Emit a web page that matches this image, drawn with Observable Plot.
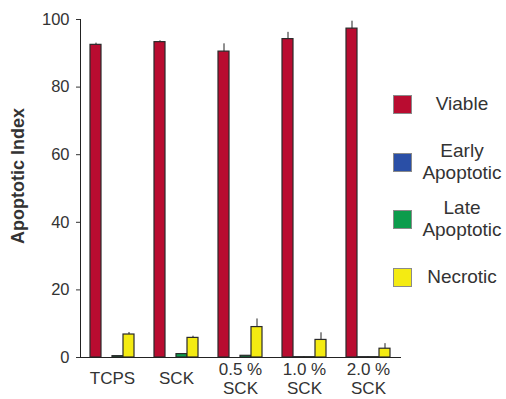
<!DOCTYPE html>
<html>
<head>
<meta charset="utf-8">
<script src="https://cdn.jsdelivr.net/npm/d3@7"></script>
<script src="https://cdn.jsdelivr.net/npm/@observablehq/plot@0.6"></script>
<style>
  html, body { margin: 0; padding: 0; background: #fff; }
  #wrap { position: relative; width: 506px; height: 399px; font-family: "Liberation Sans", Arial, sans-serif; color: #333; }
  #ylab { position: absolute; left: 18px; top: 176px; transform: translate(-50%, -50%) rotate(-90deg); font-size: 18px; font-weight: bold; white-space: nowrap; color: #333; }
  .lg { position: absolute; left: 393px; width: 113px; }
  .sw { position: absolute; left: 0; width: 17px; height: 17px; border: 1px solid #8a8a8a; }
  .lt { position: absolute; left: 25px; width: 88px; text-align: center; font-size: 19px; line-height: 22px; color: #333; }
</style>
</head>
<body>
<div id="wrap"></div>
<script>
const groups = ["TCPS", "SCK", "0.5 %\nSCK", "1.0 %\nSCK", "2.0 %\nSCK"];
const series = ["Viable", "Early Apoptotic", "Late Apoptotic", "Necrotic"];
const colors = ["#B90C30", "#2A4FA6", "#0C9C4C", "#F4EB12"];
const viable = [92.5, 93.3, 90.5, 94.2, 97.3];
const viableErr = [0.5, 0.4, 2.3, 2.0, 2.2];
const early = [0, 0, 0, 0.1, 0.1];
const late = [0.4, 1.0, 0.5, 0.1, 0.1];
const necrotic = [6.8, 5.8, 9.0, 5.2, 2.6];
const necroticErr = [0.6, 0.5, 2.4, 2.1, 1.5];
const yTicks = [0, 20, 40, 60, 80, 100];

const valuesBySeries = [viable, early, late, necrotic];
const errBySeries = [viableErr, null, null, necroticErr];
const rows = [];
groups.forEach((g, i) => {
  series.forEach((s, j) => {
    rows.push({group: g, series: s, value: valuesBySeries[j][i], err: errBySeries[j] ? errBySeries[j][i] : null});
  });
});
const errRows = rows.filter(d => d.err != null);

const chart = Plot.plot({
  width: 506,
  height: 399,
  marginLeft: 79,
  marginRight: 106,
  marginTop: 19,
  marginBottom: 42,
  style: {fontFamily: "Liberation Sans, Arial, sans-serif", fontSize: "16px", color: "#333", background: "transparent"},
  fx: {domain: groups, paddingInner: 0, paddingOuter: 0},
  x: {domain: series, paddingInner: 0, paddingOuter: 0.675, axis: null},
  y: {domain: [0, 100]},
  color: {domain: series, range: colors},
  marks: [
    Plot.axisY({ticks: yTicks, tickSize: 4, tickPadding: 7, label: null, fontSize: 16.5}),
    Plot.axisFx({anchor: "bottom", tickSize: 0, tickPadding: 21, lineAnchor: "middle", lineHeight: 1.1, label: null, fontSize: 17}),
    Plot.ruleX(errRows, {fx: "group", x: "series", y1: d => d.value - d.err, y2: d => d.value + d.err, stroke: "#222", strokeWidth: 1}),
    Plot.barY(rows, {fx: "group", x: "series", y: "value", fill: "series", stroke: "#2a2a2a", strokeWidth: 1.2}),
    Plot.frame({anchor: "left", facet: "super", stroke: "#222"}),
    Plot.frame({anchor: "bottom", facet: "super", stroke: "#222"})
  ]
});

const wrap = document.getElementById("wrap");
wrap.appendChild(chart);

const yl = document.createElement("div");
yl.id = "ylab";
yl.textContent = "Apoptotic Index";
wrap.appendChild(yl);

const legendLabels = [["Viable"], ["Early", "Apoptotic"], ["Late", "Apoptotic"], ["Necrotic"]];
const legendCenters = [104, 162, 219, 277];
series.forEach((s, i) => {
  const item = document.createElement("div");
  item.className = "lg";
  item.style.top = (legendCenters[i] - 9) + "px";
  const sw = document.createElement("div");
  sw.className = "sw";
  sw.style.background = colors[i];
  sw.style.top = "0px";
  item.appendChild(sw);
  const t = document.createElement("div");
  t.className = "lt";
  const lines = legendLabels[i];
  t.style.top = (9 - lines.length * 11) + "px";
  t.innerHTML = lines.join("<br>");
  item.appendChild(t);
  wrap.appendChild(item);
});
chart.style.position = "absolute";
chart.style.left = "0";
chart.style.top = "0";
</script>
</body>
</html>
